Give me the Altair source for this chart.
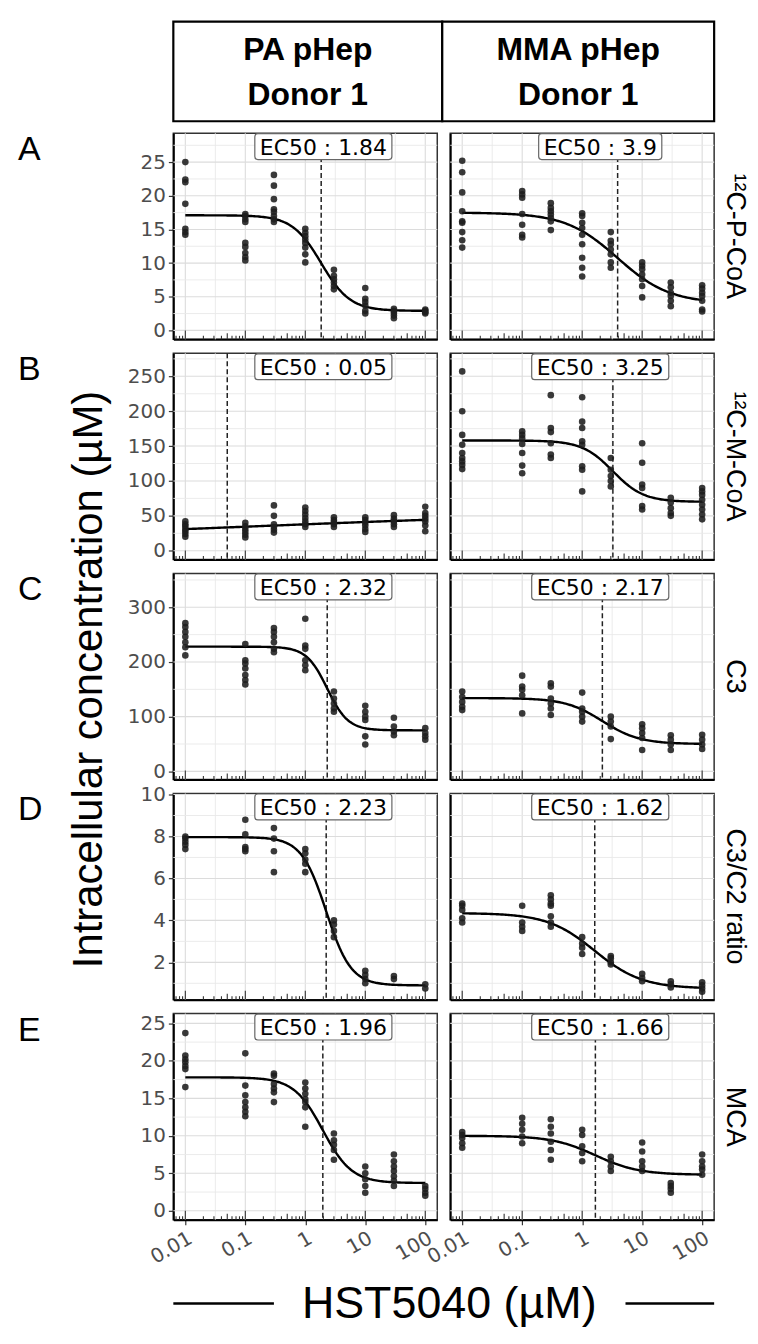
import numpy as np
import pandas as pd
import altair as alt

# ---------------- data ----------------
DOSES = [0.01, 0.1, 0.3, 1, 3, 10, 30, 100]

PA_PCOA = [[25.0, 22.4, 22.0, 18.8, 15.1, 14.6, 14.2],
           [17.3, 17.0, 16.5, 16.1, 13.0, 12.4, 11.5, 10.9, 10.4],
           [23.1, 21.5, 19.5, 18.0, 17.6, 17.0, 16.5, 16.1],
           [15.1, 14.5, 14.0, 13.5, 13.0, 12.3, 11.3, 10.1],
           [9.0, 8.1, 7.6, 7.1, 6.6, 6.1],
           [6.3, 4.7, 4.2, 3.7, 2.9, 2.5],
           [3.2, 2.9, 2.6, 2.2, 1.8],
           [3.1, 2.9, 2.7, 2.5]]
MMA_PCOA = [[25.2, 23.5, 20.5, 17.7, 16.2, 16.0, 14.6, 13.4, 12.3],
            [20.7, 20.2, 19.7, 17.3, 15.7, 14.2, 13.8],
            [18.9, 18.2, 17.7, 17.2, 16.7, 16.2, 14.9],
            [17.4, 17.0, 16.0, 15.2, 14.2, 12.8, 10.8, 9.3, 8.0],
            [14.6, 13.3, 12.8, 12.0, 11.3, 10.1, 9.3],
            [10.1, 9.6, 9.1, 8.3, 7.6, 6.6, 4.9],
            [7.1, 6.4, 5.6, 5.1, 4.4, 3.6],
            [6.7, 6.2, 5.6, 5.1, 4.4, 3.1, 2.8]]
PA_MCOA = [[42, 38, 35, 31, 28, 24, 20],
           [40, 35, 31, 27, 23, 19],
           [65, 50, 38, 34, 30, 26],
           [62, 57, 52, 47, 42, 38, 34],
           [48, 44, 41, 38, 34],
           [48, 44, 40, 36, 31, 27],
           [51, 46, 42, 38, 34],
           [63, 54, 50, 46, 42, 36, 28]]
MMA_MCOA = [[257, 200, 166, 152, 140, 133, 128, 123, 117],
            [171, 166, 161, 153, 140, 122, 111],
            [223, 176, 170, 154, 138, 133],
            [220, 185, 176, 157, 152, 121, 116, 85],
            [133, 116, 107, 100, 92],
            [154, 126, 95, 90, 64, 59],
            [76, 69, 61, 54, 50],
            [90, 85, 80, 73, 66, 59, 52, 45]]
PA_C3 = [[271, 264, 255, 246, 236, 227, 212],
         [233, 203, 197, 188, 176, 167, 159],
         [262, 255, 246, 236, 224, 218],
         [279, 230, 224, 203, 194, 185],
         [146, 133, 124, 115, 109],
         [120, 109, 100, 94, 64, 49],
         [98, 82, 73, 66],
         [79, 70, 64, 58]]
MMA_C3 = [[146, 136, 127, 118, 112],
          [175, 155, 149, 139, 106],
          [161, 155, 133, 124, 115, 103],
          [144, 115, 109, 100, 91],
          [100, 91, 82, 59],
          [86, 79, 70, 61, 39],
          [66, 58, 49, 39],
          [67, 58, 49, 41]]
PA_RATIO = [[8.0, 7.9, 7.75, 7.6, 7.4],
            [8.8, 8.1, 7.5, 7.4, 7.3],
            [8.4, 7.9, 7.3, 6.3],
            [7.4, 7.2, 6.9, 6.7, 6.3],
            [4.0, 3.8, 3.5, 3.2],
            [1.6, 1.4, 1.2, 1.0],
            [1.35, 1.2],
            [0.95, 0.75]]
MMA_RATIO = [[4.8, 4.7, 4.5, 4.1, 3.9],
             [4.7, 3.9, 3.7, 3.5],
             [5.2, 5.0, 4.8, 4.7, 4.2, 3.9, 3.7],
             [3.2, 2.9, 2.7, 2.4],
             [2.3, 2.2, 2.0, 1.9],
             [1.45, 1.25, 1.1],
             [1.1, 0.95, 0.8],
             [1.05, 0.9, 0.75, 0.6]]
PA_MCA = [[23.7, 20.7, 20.2, 19.8, 19.3, 18.9, 16.5],
          [21.0, 16.7, 15.4, 14.5, 13.8, 13.2, 12.6],
          [18.3, 18.0, 16.9, 16.3, 15.8, 14.5],
          [17.1, 16.3, 15.6, 14.9, 14.5, 13.8, 11.2],
          [10.3, 9.4, 8.8, 8.1, 6.8],
          [5.9, 5.0, 4.2, 3.3, 2.4],
          [7.5, 6.6, 5.9, 5.3, 4.6, 4.0, 3.3],
          [3.3, 2.9, 2.4, 2.0]]
MMA_MCA = [[10.5, 10.1, 9.7, 9.0, 8.4],
           [12.4, 11.6, 10.8, 9.9, 9.0],
           [12.2, 11.2, 10.3, 9.2, 8.1, 6.8],
           [10.8, 10.1, 8.6, 7.7, 6.6],
           [7.2, 6.6, 5.9, 5.3],
           [9.1, 7.9, 6.6, 5.9, 5.3],
           [3.7, 3.3, 2.9, 2.4],
           [7.5, 6.6, 5.9, 5.5, 4.8]]

# fitted 4-parameter logistic curves: (top, bottom, EC50, hill)
FIT_PA = [(17.1, 2.9, 1.84, 1.8), (3.4, 63.4, 0.05, 0.1), (228, 75, 2.32, 2.5),
          (7.97, 0.9, 2.23, 2.1), (17.8, 3.7, 1.96, 1.8)]
FIT_MMA = [(17.5, 4.0, 3.9, 1.0), (158, 70, 3.25, 1.7), (134, 50, 2.17, 1.4),
           (4.35, 0.75, 1.62, 1.1), (10.0, 4.8, 1.66, 1.2)]
EC50_PA = ["1.84", "0.05", "2.32", "2.23", "1.96"]
EC50_MMA = ["3.9", "3.25", "2.17", "1.62", "1.66"]

COL_TITLES = [["PA pHep", "Donor 1"], ["MMA pHep", "Donor 1"]]
ROW_LABELS = ["\u00b9\u00b2C-P-CoA", "\u00b9\u00b2C-M-CoA", "C3", "C3/C2 ratio", "MCA"]
ROW_LETTERS = ["A", "B", "C", "D", "E"]
Y_DOMAINS = [(-1.33, 29.3), (-12.5, 283), (-15, 362), (0.22, 10.05), (-1.2, 26.3)]
Y_TICKS = [[0, 5, 10, 15, 20, 25], [0, 50, 100, 150, 200, 250], [0, 100, 200, 300],
           [2, 4, 6, 8, 10], [0, 5, 10, 15, 20, 25]]
X_TICKS = [0.01, 0.1, 1, 10, 100]
Y_TITLE = "Intracellular concentration (\u00b5M)"
X_TITLE = "HST5040 (\u00b5M)"
LABEL_X = 2

DATA = [[PA_PCOA, MMA_PCOA], [PA_MCOA, MMA_MCOA], [PA_C3, MMA_C3],
        [PA_RATIO, MMA_RATIO], [PA_MCA, MMA_MCA]]
FITS = [FIT_PA, FIT_MMA]
EC50S = [EC50_PA, EC50_MMA]

# ---------------- layout / style ----------------
W, H = 265, 207
XMIN, XMAX = 10 ** -2.2, 10 ** 2.2
TICK_FONT = "DejaVu Sans"
SANS = "Liberation Sans"
GRID_MAJ = "#DCDCDC"
GRID_MIN = "#E9E9E9"

X_MINOR = [10 ** v for v in (-1.5, -0.5, 0.5, 1.5)]
LOG_ALL = [m * 10 ** e for e in range(-3, 3) for m in range(1, 10)
           if XMIN <= m * 10 ** e <= XMAX]
LOG_LONG = [v for v in LOG_ALL if abs(np.log10(v) - round(np.log10(v))) < 1e-9]
LOG_MID = [v for v in LOG_ALL if abs(v / 10 ** np.floor(np.log10(v) + 1e-9) - 5) < 1e-6]
LOG_SHORT = [v for v in LOG_ALL if v not in LOG_LONG and v not in LOG_MID]

DW = {"E": .632, "C": .698, "5": .636, "0": .636, " ": .318, ":": .337, ".": .318}


def text_w(s, size):
    return sum(DW.get(c, .636) for c in s) * size


def box_path(w, h=26.0, r=3.0):
    s = w / 2.0
    hh, rr = (h / 2.0) / s, r / s
    a = 1 - rr
    b = hh - rr
    return (f"M{-a:.4f},{-hh:.4f}L{a:.4f},{-hh:.4f}Q1,{-hh:.4f} 1,{-b:.4f}"
            f"L1,{b:.4f}Q1,{hh:.4f} {a:.4f},{hh:.4f}L{-a:.4f},{hh:.4f}"
            f"Q-1,{hh:.4f} -1,{b:.4f}L-1,{-b:.4f}Q-1,{-hh:.4f} {-a:.4f},{-hh:.4f}Z")


def minor_vals(ticks, dom):
    step = ticks[1] - ticks[0]
    cand = [t - step / 2 for t in ticks] + [ticks[-1] + step / 2]
    return [v for v in cand if dom[0] <= v <= dom[1]]


def fourpl(x, top, bottom, ec, hill):
    return bottom + (top - bottom) / (1 + (x / ec) ** hill)


def txt(s, x, y, size, font=SANS, weight="normal", angle=0, align="center",
        baseline="alphabetic", color="black"):
    return alt.Chart(pd.DataFrame({"t": [s]})).mark_text(
        font=font, fontSize=size, fontWeight=weight, angle=angle, align=align,
        baseline=baseline, color=color).encode(
        text="t:N", x=alt.value(x), y=alt.value(y))


def panel(row, col):
    dom = Y_DOMAINS[row]
    bottom_row = row == 4
    left = col == 0
    xs = alt.Scale(type="log", domain=[XMIN, XMAX], nice=False)
    ys = alt.Scale(domain=list(dom), nice=False, zero=False)
    xaxis = alt.Axis(values=X_TICKS, format="~g", labels=bottom_row, ticks=bottom_row,
                     grid=False, title=None, domainColor="black", domainWidth=2,
                     tickSize=5, tickColor="#333333", tickWidth=1.2,
                     labelAngle=-30, labelAlign="right", labelBaseline="top",
                     labelPadding=3, labelFont=TICK_FONT, labelFontSize=20,
                     labelColor="#4D4D4D", labelFlush=False, labelOverlap=False)
    yaxis = alt.Axis(values=Y_TICKS[row], labels=left, ticks=left, grid=False,
                     title=None, domainColor="black", domainWidth=2,
                     tickSize=5, tickColor="#333333", tickWidth=1.2,
                     labelPadding=3, labelFont=TICK_FONT, labelFontSize=20,
                     labelColor="#4D4D4D", labelFlush=False, labelOverlap=False)

    def X():
        return alt.X("x:Q", scale=xs, axis=xaxis)

    def Y():
        return alt.Y("y:Q", scale=ys, axis=yaxis)

    vals = DATA[row][col]
    pts = pd.DataFrame([{"x": d, "y": v} for d, vs in zip(DOSES, vals) for v in vs])
    top, bot, ec, hill = FITS[col][row]
    cx = np.logspace(-2, 2, 161)
    curve = pd.DataFrame({"x": cx, "y": fourpl(cx, top, bot, ec, hill)})
    label = "EC50 : " + EC50S[col][row]
    bw = text_w(label, 22) + 10

    layers = [
        alt.Chart(pd.DataFrame({"x": X_MINOR})).mark_rule(color=GRID_MIN, strokeWidth=0.9).encode(x=X()),
        alt.Chart(pd.DataFrame({"x": X_TICKS})).mark_rule(color=GRID_MAJ, strokeWidth=1.1).encode(x=X()),
        alt.Chart(pd.DataFrame({"y": minor_vals(Y_TICKS[row], dom)})).mark_rule(
            color=GRID_MIN, strokeWidth=0.9).encode(y=Y()),
        alt.Chart(pd.DataFrame({"y": Y_TICKS[row]})).mark_rule(
            color=GRID_MAJ, strokeWidth=1.1).encode(y=Y()),
    ]
    for vlist, ln in ((LOG_LONG, 9), (LOG_MID, 6), (LOG_SHORT, 3.5)):
        layers.append(alt.Chart(pd.DataFrame({"x": vlist})).mark_rule(
            color="#333333", strokeWidth=1.1).encode(x=X(), y=alt.value(H), y2=alt.value(H - ln)))
    layers += [
        alt.Chart(pd.DataFrame({"x": [ec]})).mark_rule(
            color="#222222", strokeWidth=1.5, strokeDash=[5, 3]).encode(x=X()),
        alt.Chart(curve).mark_line(color="black", strokeWidth=2.4).encode(x=X(), y=Y()),
        alt.Chart(pts).mark_circle(size=44, color="#1E1E1E", opacity=0.88).encode(x=X(), y=Y()),
        alt.Chart(pd.DataFrame({"x": [LABEL_X]})).mark_point(
            shape=box_path(bw), size=bw * bw, filled=True, fill="white", stroke="#666666",
            strokeWidth=1.2, opacity=1).encode(x=X(), y=alt.value(13.5)),
        alt.Chart(pd.DataFrame({"x": [LABEL_X], "t": [label]})).mark_text(
            font=TICK_FONT, fontSize=22, color="black", align="center",
            baseline="alphabetic").encode(x=X(), y=alt.value(21.5), text="t:N"),
    ]
    # decorations
    if left:
        layers.append(txt(ROW_LETTERS[row], -156, 27, 34, align="left"))
    else:
        layers.append(txt(ROW_LABELS[row], W + 21, H / 2, 27, angle=90, baseline="middle"))
    if row == 0:
        x0, x1 = (0, 270) if left else (-8, W)
        layers.append(alt.Chart(pd.DataFrame({"t": [0]})).mark_rect(
            fill="white", stroke="black", strokeWidth=2.2).encode(
            x=alt.value(x0), x2=alt.value(x1), y=alt.value(-112), y2=alt.value(-12)))
        cxp = (x0 + x1) / 2
        layers.append(txt(COL_TITLES[col][0], cxp, -73, 32, weight="bold"))
        layers.append(txt(COL_TITLES[col][1], cxp, -28, 32, weight="bold"))
    if row == 2 and left:
        layers.append(txt(Y_TITLE, -85, H / 2 + 3, 42, angle=270, baseline="middle"))
    if bottom_row and left:
        layers.append(txt(X_TITLE, 277, H + 99, 45))
        for a, b in ((0, 101), (454, 543)):
            layers.append(alt.Chart(pd.DataFrame({"t": [0]})).mark_rule(
                color="black", strokeWidth=2.5).encode(
                x=alt.value(a), x2=alt.value(b), y=alt.value(H + 84)))
    return alt.layer(*layers).properties(width=W, height=H)


panels = [panel(r, c) for r in range(5) for c in range(2)]
chart = alt.concat(*panels, columns=2, spacing={"row": 14, "column": 13},
                   bounds="flush").properties(
    padding={"left": 9, "top": 9, "right": 0, "bottom": 2}
).configure_view(stroke="#333333", strokeWidth=1.5)

chart.save("out.html", embed_options={"renderer": "svg", "actions": False})
